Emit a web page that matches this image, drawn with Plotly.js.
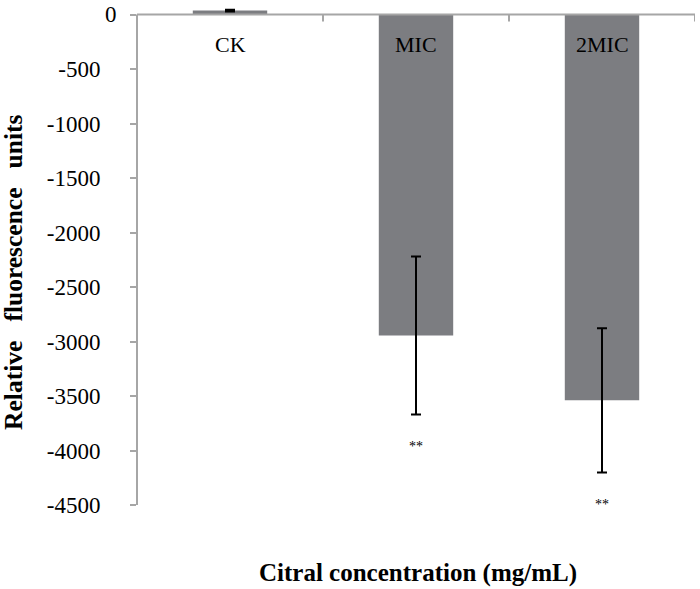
<!DOCTYPE html>
<html>
<head>
<meta charset="utf-8">
<script src="https://cdn.plot.ly/plotly-3.0.1.min.js"></script>
<style>html,body{margin:0;padding:0;background:#fff;}#chart{width:700px;height:589px;}</style>
</head>
<body>
<div id="chart"></div>
<script>
const categories = ['CK', 'MIC', '2MIC'];
const values = [37, -2945, -3540];
const errors = [8, 725, 662];
const significance = ['', '**', '**'];
const yTicks = [0, -500, -1000, -1500, -2000, -2500, -3000, -3500, -4000, -4500];

const serif = 'Liberation Serif';
const axisGray = '#a6a6a6';

const trace = {
  type: 'bar',
  x: categories,
  y: values,
  marker: {color: '#7c7d81'},
  error_y: {type: 'data', array: errors, visible: true, color: '#000', thickness: 2, width: 5},
  hoverinfo: 'none'
};

const annotations = [];
categories.forEach((c, i) => {
  annotations.push({x: c, y: 0, xref: 'x', yref: 'y', text: c, showarrow: false,
    yanchor: 'middle', yshift: -30, font: {family: serif, size: 22, color: '#000'}});
  if (significance[i]) {
    annotations.push({x: c, y: values[i] - errors[i] - 290, xref: 'x', yref: 'y', text: significance[i],
      showarrow: false, yanchor: 'middle', font: {family: serif, size: 14, color: '#000'}});
  }
});
// zero tick label (drawn slightly offset, as in the reference)
annotations.push({x: -0.0315, y: yTicks[0], xref: 'paper', yref: 'y', text: String(yTicks[0]),
  showarrow: false, xanchor: 'right', yanchor: 'middle', font: {family: serif, size: 23, color: '#000'}});
annotations.push({x: -0.2204, y: 0.467, xref: 'paper', yref: 'paper', textangle: -90,
  xanchor: 'center', yanchor: 'middle',
  text: '<b>Relative\u00a0\u00a0\u00a0fluorescence\u00a0\u00a0\u00a0units</b>', showarrow: false,
  font: {family: serif, size: 25.5, color: '#000'}});
annotations.push({x: 0.5036, y: 0, xref: 'paper', yref: 'paper', xanchor: 'center', yanchor: 'middle', yshift: -68,
  text: '<b>Citral concentration (mg/mL)</b>', showarrow: false,
  font: {family: serif, size: 25, color: '#000'}});

const shapes = [
  {type: 'line', xref: 'paper', yref: 'y', x0: 0, x1: 0, y0: 0, y1: -4500, line: {color: axisGray, width: 2}},
  {type: 'line', xref: 'paper', yref: 'y', x0: 0, x1: 1, y0: 0, y1: 0, line: {color: axisGray, width: 2}}
];
[0.5, 1.5, 2.5].forEach(b => {
  shapes.push({type: 'line', xref: 'x', yref: 'y', ysizemode: 'pixel', yanchor: 0,
    x0: b, x1: b, y0: 0, y1: -7, line: {color: axisGray, width: 2}});
});

const layout = {
  width: 700, height: 589,
  margin: {l: 137, r: 5, t: 7.5, b: 84},
  paper_bgcolor: '#fff', plot_bgcolor: '#fff',
  showlegend: false,
  bargap: 0.6,
  xaxis: {type: 'category', showticklabels: false, showline: false, showgrid: false, zeroline: false,
    ticks: '', range: [-0.5, 2.5]},
  yaxis: {range: [-4500, 60], tickvals: yTicks, ticktext: yTicks.map(v => v === 0 ? '' : String(v)), ticks: 'outside',
    ticklen: 6, tickwidth: 2, tickcolor: axisGray, showline: false, showgrid: false, zeroline: false,
    ticklabelstandoff: 25, tickfont: {family: serif, size: 23, color: '#000'}},
  annotations: annotations,
  shapes: shapes
};

Plotly.newPlot('chart', [trace], layout, {displayModeBar: false, staticPlot: true});
</script>
</body>
</html>
